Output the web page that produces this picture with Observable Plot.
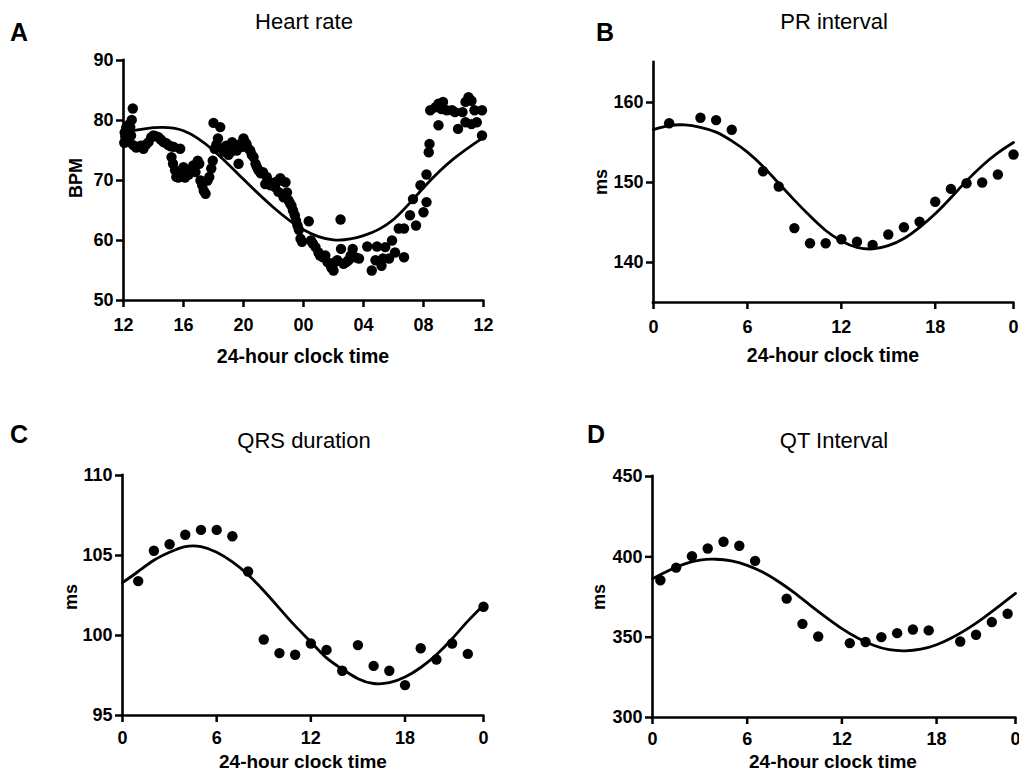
<!DOCTYPE html>
<html>
<head>
<meta charset="utf-8">
<script src="https://cdn.jsdelivr.net/npm/d3@7"></script>
<script src="https://cdn.jsdelivr.net/npm/@observablehq/plot@0.6"></script>
<style>
  html, body { margin: 0; padding: 0; background: #fff; overflow: hidden; }
  #root { position: relative; width: 1019px; height: 771px; font-family: "Liberation Sans", Arial, sans-serif; color: #000; }
  .txt { position: absolute; white-space: nowrap; transform: translate(-50%, -50%); line-height: 0.8; }
  .rot { transform: translate(-50%, -50%) rotate(-90deg); }
  svg { position: absolute; overflow: visible; }
</style>
</head>
<body>
<div id="root"></div>
<script>
// ---------- Panel A: Heart rate (hours since 12:00) ----------
const hrHours = [0.05,0.08,0.12,0.18,0.22,0.28,0.35,0.45,0.5,0.55,0.62,0.65,0.85,1.0,1.15,1.33,1.5,1.67,1.85,2.0,2.15,2.33,2.5,2.67,2.85,3.0,3.15,3.2,3.3,3.35,3.44,3.52,3.65,3.78,3.9,4.0,4.1,4.2,4.35,4.5,4.65,4.8,4.95,5.05,5.13,5.25,5.35,5.47,5.6,5.72,5.85,5.95,6.0,6.08,6.2,6.3,6.45,6.58,6.7,6.85,7.0,7.13,7.24,7.4,7.55,7.67,7.8,7.9,8.0,8.1,8.2,8.3,8.45,8.55,8.67,8.8,8.9,9.0,9.15,9.3,9.45,9.55,9.65,9.8,9.95,10.1,10.2,10.33,10.45,10.55,10.67,10.8,10.9,11.0,11.1,11.2,11.3,11.42,11.5,11.6,11.69,11.8,11.9,12.35,12.5,12.62,12.8,13.0,13.1,13.3,13.45,13.6,13.75,13.85,14.0,14.1,14.25,14.47,14.5,14.67,14.85,15.0,15.15,15.28,15.45,15.7,16.25,16.55,16.8,16.9,17.2,17.3,17.45,17.7,17.9,18.1,18.35,18.7,18.7,19.1,19.3,19.5,19.8,20.0,20.2,20.2,20.35,20.4,20.45,20.8,21.0,21.0,21.2,21.3,21.55,21.9,22.1,22.3,22.6,22.8,22.8,23.0,23.2,23.2,23.4,23.55,23.9,23.9];
const hrBpm = [76.3,78.0,77.3,78.8,76.4,78.3,79.3,78.9,77.5,80.1,82.0,75.9,75.5,75.6,75.8,75.3,76.0,76.4,77.2,77.5,77.4,77.2,76.8,76.4,76.2,75.9,75.7,73.9,72.8,75.6,71.7,70.6,70.5,75.3,70.8,72.2,70.5,71.4,71.0,71.8,72.5,71.4,73.3,72.8,70.0,69.2,68.3,67.8,70.0,70.6,72.0,73.3,79.6,75.3,76.0,77.0,78.9,75.3,74.8,75.8,74.3,74.7,76.4,75.2,75.0,72.8,76.1,75.6,77.0,76.4,76.1,75.4,75.0,74.3,73.9,72.8,72.2,71.7,71.2,71.4,69.4,70.6,69.8,69.2,69.6,68.9,69.8,68.1,70.4,70.0,67.2,69.7,68.0,66.7,66.2,65.8,65.0,64.2,63.3,62.5,61.8,60.3,59.8,63.2,60.0,59.5,58.9,58.0,57.5,57.2,57.5,56.4,56.1,55.5,55.0,56.4,56.7,63.5,58.6,56.1,56.4,56.7,57.5,58.6,57.2,57.0,59.0,55.0,56.7,59.0,55.8,57.0,58.9,57.0,60.0,58.0,62.0,62.0,57.2,64.2,66.9,62.5,69.2,64.7,66.4,71.0,74.7,76.1,81.7,82.2,82.8,79.2,81.9,83.1,81.7,81.7,81.4,78.6,81.4,83.1,79.7,83.9,83.3,79.4,81.7,79.7,81.7,77.5];
const hrFitHours = [0,2,4,6,8,10,12,14,16,18,20,22,24];
const hrFitBpm = [78.0,78.8,78.3,75.0,70.2,65.5,61.8,60.1,60.8,63.5,68.8,73.6,77.2];
const hrXTicks = [0,4,8,12,16,20,24];
const hrXTickLabels = ["12","16","20","00","04","08","12"];
const hrYTicks = [50,60,70,80,90];

// ---------- Panel B: PR interval ----------
const prHours = [1,3,4,5,7,8,9,10,11,12,13,14,15,16,17,18,19,20,21,22,23];
const prMs = [157.4,158.1,157.8,156.6,151.4,149.5,144.3,142.4,142.4,142.9,142.6,142.2,143.5,144.4,145.1,147.6,149.2,149.9,150.0,151.0,153.5];
const prFitHours = [0,1,2,3,4,5,6,7,8,9,10,11,12,13,14,15,16,17,18,19,20,21,22,23];
const prFitMs = [156.6,157.1,157.2,156.9,156.3,155.2,153.8,152.0,149.9,147.8,145.8,144.0,142.7,141.9,141.7,142.1,143.0,144.4,146.1,148.1,150.2,152.1,153.7,155.0];
const prYTicks = [140,150,160];

// ---------- Panel C: QRS duration ----------
const qrsHours = [1,2,3,4,5,6,7,8,9,10,11,12,13,14,15,16,17,18,19,20,21,22,23];
const qrsMs = [103.4,105.3,105.7,106.3,106.6,106.6,106.2,104.0,99.75,98.9,98.8,99.5,99.1,97.8,99.4,98.1,97.8,96.9,99.2,98.5,99.5,98.85,101.8];
const qrsFitHours = [0,1,2,3,4,5,6,7,8,9,10,11,12,13,14,15,16,17,18,19,20,21,22,23];
const qrsFitMs = [103.3,104.0,104.7,105.2,105.55,105.55,105.2,104.6,103.8,102.8,101.7,100.6,99.6,98.6,97.9,97.3,97.0,97.05,97.4,98.0,98.8,99.8,100.9,101.9];
const qrsYTicks = [95,100,105,110];

// ---------- Panel D: QT interval ----------
const qtHours = [0.5,1.5,2.5,3.5,4.5,5.5,6.5,8.5,9.5,10.5,12.5,13.5,14.5,15.5,16.5,17.5,19.5,20.5,21.5,22.5];
const qtMs = [385.4,393.3,400.4,405.2,409.4,406.9,397.5,374,358.3,350.4,346.3,347,350,352.5,354.8,354.2,347.3,351.5,359.4,364.6];
const qtFitHours = [0,1,2,3,4,5,6,7,8,9,10,11,12,13,14,15,16,17,18,19,20,21,22,23];
const qtFitMs = [386.3,391.3,395.5,398.0,398.5,397.5,394.7,390.4,384.5,377.5,369.8,362.3,355.3,349.5,345.0,342.2,341.5,342.5,345.3,349.8,355.5,362.2,369.6,377.2];
const qtYTicks = [300,350,400,450];

// shared tick labels for B-D
const dayXTicks = [0,6,12,18,23];
const dayXTickLabels = ["0","6","12","18","0"];

const FONT = "'Liberation Sans', Arial, sans-serif";
const root = document.getElementById("root");

function addText(str, x, y, size, weight, rotate) {
  const d = document.createElement("div");
  d.className = "txt" + (rotate ? " rot" : "");
  d.textContent = str;
  d.style.left = x + "px";
  d.style.top = y + "px";
  d.style.fontSize = size + "px";
  d.style.fontWeight = weight;
  root.appendChild(d);
}

function panel(o) {
  const mL = 60, mT = 20, mB = 40, mR = o.mR;
  const dots = o.dx.map((x, i) => ({x, y: o.dy[i]}));
  const fit = o.fx.map((x, i) => ({x, y: o.fy[i]}));
  const svg = Plot.plot({
    width: mL + o.w + mR,
    height: mT + o.h + mB,
    marginLeft: mL, marginTop: mT, marginRight: mR, marginBottom: mB,
    style: {fontFamily: FONT, fontSize: "18px", fontWeight: "bold", color: "#000", background: "transparent", overflow: "visible"},
    x: {domain: o.xDomain},
    y: {domain: o.yDomain},
    marks: [
      Plot.axisX({ticks: o.xTicks, tickFormat: (d) => o.xLabels[o.xTicks.indexOf(d)], tickSize: 7, tickPadding: o.xPad, strokeWidth: 2.5, label: null, fontSize: 18, fontWeight: "bold"}),
      Plot.axisY({ticks: o.yTicks, tickSize: 7, tickPadding: 3, strokeWidth: 2.5, label: null, fontSize: 18, fontWeight: "bold"}),
      Plot.ruleX([o.xDomain[0]], {stroke: "#000", strokeWidth: 2.6, strokeLinecap: "square"}),
      Plot.ruleY([o.yDomain[0]], {stroke: "#000", strokeWidth: 2.6, strokeLinecap: "square"}),
      Plot.line(fit, {x: "x", y: "y", curve: "natural", stroke: "#000", strokeWidth: 2.8}),
      Plot.dot(dots, {x: "x", y: "y", r: 5.2, fill: "#000", stroke: "none"})
    ]
  });
  svg.style.left = (o.left - mL) + "px";
  svg.style.top = (o.top - mT) + "px";
  root.appendChild(svg);
}

panel({left: 123, top: 60, w: 360, h: 240, mR: 20, xPad: 11, xDomain: [0, 24], xTicks: hrXTicks, xLabels: hrXTickLabels,
  yDomain: [50, 90], yTicks: hrYTicks, dx: hrHours, dy: hrBpm, fx: hrFitHours, fy: hrFitBpm});
panel({left: 653, top: 62, w: 360, h: 240, mR: 6, xPad: 11, xDomain: [0, 23], xTicks: dayXTicks, xLabels: dayXTickLabels,
  yDomain: [135, 165], yTicks: prYTicks, dx: prHours, dy: prMs, fx: prFitHours, fy: prFitMs});
panel({left: 122, top: 475, w: 361, h: 240, mR: 20, xPad: 9, xDomain: [0, 23], xTicks: dayXTicks, xLabels: dayXTickLabels,
  yDomain: [95, 110], yTicks: qrsYTicks, dx: qrsHours, dy: qrsMs, fx: qrsFitHours, fy: qrsFitMs});
panel({left: 652, top: 476, w: 363, h: 241, mR: 4, xPad: 8, xDomain: [0, 23], xTicks: dayXTicks, xLabels: dayXTickLabels,
  yDomain: [300, 450], yTicks: qtYTicks, dx: qtHours, dy: qtMs, fx: qtFitHours, fy: qtFitMs});

// titles, panel letters, axis labels
addText("Heart rate", 304, 22, 22, "normal");
addText("PR interval", 834, 22, 22, "normal");
addText("QRS duration", 304, 441, 22, "normal");
addText("QT Interval", 834, 441, 22, "normal");
addText("A", 19, 32, 25, "bold");
addText("B", 605, 32, 25, "bold");
addText("C", 19, 434, 25, "bold");
addText("D", 596, 434, 25, "bold");
addText("BPM", 76, 178, 18, "bold", true);
addText("ms", 601, 182, 18, "bold", true);
addText("ms", 71, 597, 18, "bold", true);
addText("ms", 599, 597, 18, "bold", true);
addText("24-hour clock time", 303, 357, 19.5, "bold");
addText("24-hour clock time", 833, 356, 19.5, "bold");
addText("24-hour clock time", 303, 762, 19, "bold");
addText("24-hour clock time", 833, 762, 19, "bold");
</script>
</body>
</html>
